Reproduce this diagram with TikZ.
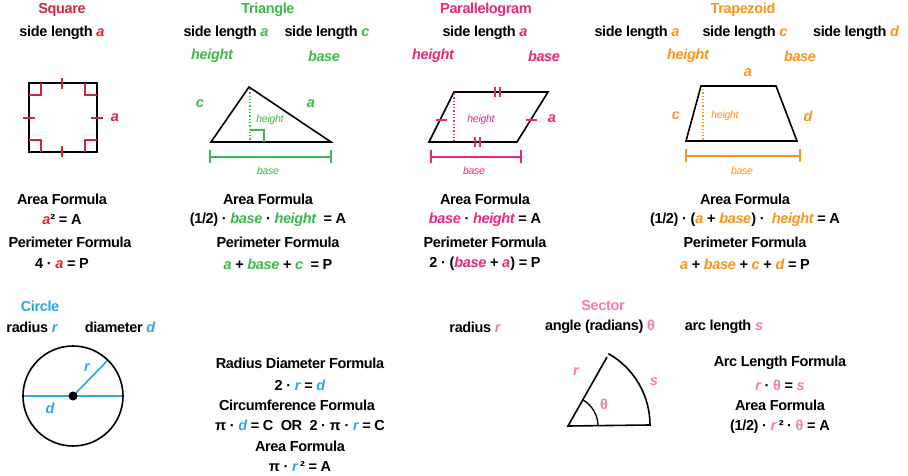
\documentclass[tikz,border=0pt]{standalone}
\usepackage{fontspec}
\setmainfont{Liberation Sans}[LetterSpace=-2.5]
\definecolor{cred}{HTML}{D0283A}
\definecolor{cgreen}{HTML}{3DB84A}
\definecolor{cpink}{HTML}{E8287A}
\definecolor{corange}{HTML}{F7941D}
\definecolor{cblue}{HTML}{29A9E0}
\definecolor{csec}{HTML}{F47DA8}
\newcommand\vc[2]{{\color{#1}\itshape #2}}
\begin{document}
\begin{tikzpicture}[x=1pt,y=-1pt,
  every node/.style={font=\fontsize{14.5}{16}\selectfont\bfseries, inner sep=0pt},
  small/.style={font=\fontsize{10.5}{12}\selectfont\itshape},
  shp/.style={line width=1.6pt, line join=miter},
  tick/.style={line width=1.3pt},
  dot/.style={line width=1.3pt, dotted}]
\useasboundingbox (0,0) rectangle (908,476);
% ===== Square
\node[cred] (sqT) at (62,10) {Square};
\node (sqS) at (62,33) {side length \vc{cred}{a}};
\draw[shp] (29,83) rectangle (97,152);
\begin{scope}[cred,tick]
\draw (62,78)--(62,89); \draw (62,146)--(62,157);
\draw (23,118)--(35,118); \draw (91,118)--(103,118);
\draw (29,95)--(41,95)--(41,83); \draw (85,83)--(85,95)--(97,95);
\draw (29,140)--(41,140)--(41,152); \draw (85,152)--(85,140)--(97,140);
\end{scope}
\node[cred] (sqa) at (115,118) {\itshape a};
\node (sqAF) at (62,199) {Area Formula};
\node (sqAE) at (62,220) {\vc{cred}{a}² = A};
\node (sqPF) at (70,242) {Perimeter Formula};
\node (sqPE) at (62,264) {4 · \vc{cred}{a} = P};
% ===== Triangle
\node[cgreen] (trT) at (268,10) {Triangle};
\node (trS1) at (226,33) {side length \vc{cgreen}{a}};
\node (trS2) at (327,33) {side length \vc{cgreen}{c}};
\node[cgreen] (trH) at (212,56) {\itshape height};
\node[cgreen] (trB) at (324,56) {\itshape base};
\draw[shp] (211,142)--(249,87)--(331,142)--cycle;
\draw[cgreen,dot] (250,89)--(250,141);
\draw[cgreen,tick] (250,130)--(264,130)--(264,142);
\node[cgreen,small] (trh) at (270,120) {height};
\node[cgreen] (trc) at (200,104) {\itshape c};
\node[cgreen] (tra) at (311,104) {\itshape a};
\draw[cgreen,tick] (210,157)--(331,157) (210,150)--(210,163) (331,150)--(331,163);
\node[cgreen,small] (trb) at (268,171) {base};
\node (trAF) at (268,199) {Area Formula};
\node (trAE) at (268,220) {(1/2) · \vc{cgreen}{base} · \vc{cgreen}{height}\ \ = A};
\node (trPF) at (278,242) {Perimeter Formula};
\node (trPE) at (278,264) {\vc{cgreen}{a} + \vc{cgreen}{base} + \vc{cgreen}{c}\ \ = P};
% ===== Parallelogram
\node[cpink] (paT) at (486,10) {Parallelogram};
\node (paS) at (485,33) {side length \vc{cpink}{a}};
\node[cpink] (paH) at (433,56) {\itshape height};
\node[cpink] (paB) at (544,56) {\itshape base};
\draw[shp] (429,142)--(454,92)--(548,92)--(517,142)--cycle;
\draw[cpink,dot] (454,94)--(454,141);
\begin{scope}[cpink,tick]
\draw (436,120)--(447,120); \draw (526,120)--(537,120);
\draw (495,87)--(495,97) (500,87)--(500,97);
\draw (475,137)--(475,147) (480,137)--(480,147);
\draw (431,157)--(521,157) (431,150)--(431,163) (521,150)--(521,163);
\end{scope}
\node[cpink,small] (pah) at (481,120) {height};
\node[cpink] (paa) at (552,119) {\itshape a};
\node[cpink,small] (pab) at (474,171) {base};
\node (paAF) at (485,199) {Area Formula};
\node (paAE) at (485,220) {\vc{cpink}{base} · \vc{cpink}{height} = A};
\node (paPF) at (485,242) {Perimeter Formula};
\node (paPE) at (485,264) {2 · (\vc{cpink}{base} + \vc{cpink}{a}) = P};
% ===== Trapezoid
\node[corange] (tzT) at (743,10) {Trapezoid};
\node (tzS1) at (637,33) {side length \vc{corange}{a}};
\node (tzS2) at (745,33) {side length \vc{corange}{c}};
\node (tzS3) at (856,33) {side length \vc{corange}{d}};
\node[corange] (tzH) at (688,56) {\itshape height};
\node[corange] (tzB) at (800,56) {\itshape base};
\node[corange] (tza) at (748,73) {\itshape a};
\draw[shp] (686,141)--(701,86)--(776,86)--(797,141)--cycle;
\draw[corange,dot] (703,89)--(703,140);
\node[corange,small] (tzh) at (725,116) {height};
\node[corange] (tzc) at (676,116) {\itshape c};
\node[corange] (tzd) at (808,116) {\itshape d};
\draw[corange,tick] (686,156)--(800,156) (686,149)--(686,162) (800,149)--(800,162);
\node[corange,small] (tzb) at (742,171) {base};
\node (tzAF) at (745,199) {Area Formula};
\node (tzAE) at (745,220) {(1/2) · (\vc{corange}{a} + \vc{corange}{base}) · \ \vc{corange}{height} = A};
\node (tzPF) at (745,242) {Perimeter Formula};
\node (tzPE) at (745,264) {\vc{corange}{a} + \vc{corange}{base} + \vc{corange}{c} + \vc{corange}{d} = P};
% ===== Circle
\node[cblue] (ciT) at (40,306) {Circle};
\node (ciR) at (32,327) {radius \vc{cblue}{r}};
\node (ciD) at (120,327) {diameter \vc{cblue}{d}};
\coordinate (cc) at (73,396);
\draw[cblue,line width=1.6pt] (23,396)--(123,396) (cc)--(108,360);
\draw[shp] (cc) circle[radius=50];
\fill (cc) circle[radius=4.5];
\node[cblue] (cir) at (87,368) {\itshape r};
\node[cblue] (cid) at (50,408) {\itshape d};
\node (ciF1) at (300,363) {Radius Diameter Formula};
\node (ciF2) at (300,385) {2 · \vc{cblue}{r} = \vc{cblue}{d}};
\node (ciF3) at (297,405) {Circumference Formula};
\node (ciF4) at (300,425) {π · \vc{cblue}{d} = C\ \ OR\ \ 2 · π · \vc{cblue}{r} = C};
\node (ciF5) at (300,446) {Area Formula};
\node (ciF6) at (300,467) {π · \vc{cblue}{r}\,² = A};
% ===== Sector
\node[csec] (seT) at (603,306) {Sector};
\node (seR) at (475,327) {radius \vc{csec}{r}};
\node (seA) at (600,327) {angle (radians) {\color{csec}θ}};
\node (seL) at (724,327) {arc length \vc{csec}{s}};
\coordinate (sv) at (568,426);
\draw[shp] (607,357)--(sv)--(650,425) arc[start angle=0,end angle=-60.5,radius=82];
\draw[line width=1.3pt] ([shift={(0:30)}]sv) arc[start angle=0,end angle=-60.5,radius=30];
\node[csec] (seth) at (604,404) {θ};
\node[csec] (ser) at (576,372) {\itshape r};
\node[csec] (ses) at (654,382) {\itshape s};
\node (seF1) at (780,363) {Arc Length Formula};
\node (seF2) at (780,385) {\vc{csec}{r} · {\color{csec}θ} = \vc{csec}{s}};
\node (seF3) at (780,405) {Area Formula};
\node (seF4) at (780,427) {(1/2) · \vc{csec}{r}\,² · {\color{csec}θ} = A};
\end{tikzpicture}
\end{document}
